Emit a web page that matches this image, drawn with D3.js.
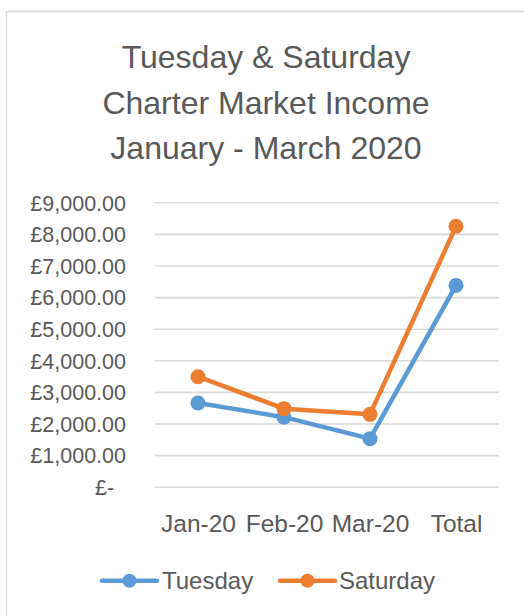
<!DOCTYPE html>
<html>
<head>
<meta charset="utf-8">
<script src="https://cdn.jsdelivr.net/npm/d3@7"></script>
<style>
  html, body { margin: 0; padding: 0; background: #ffffff; }
  svg { display: block; font-family: "Liberation Sans", Arial, sans-serif; }
</style>
</head>
<body>
<svg id="chart" width="524" height="616"></svg>
<script>
// ---- data ----
const titleLines = ["Tuesday & Saturday", "Charter Market Income", "January - March 2020"];
const categories = ["Jan-20", "Feb-20", "Mar-20", "Total"];
const seriesNames = ["Tuesday", "Saturday"];
const tuesdayValues = [2650, 2200, 1520, 6370];
const saturdayValues = [3480, 2470, 2290, 8240];
const yTickValues = [0, 1000, 2000, 3000, 4000, 5000, 6000, 7000, 8000, 9000];
const seriesColors = ["#5B9BD5", "#ED7D31"];

const series = [
  { name: seriesNames[0], values: tuesdayValues, color: seriesColors[0] },
  { name: seriesNames[1], values: saturdayValues, color: seriesColors[1] }
];

const svg = d3.select("#chart");
const textColor = "#595959";

// chart border
svg.append("rect")
  .attr("x", 6.5).attr("y", 11.5)
  .attr("width", 540).attr("height", 640)
  .attr("fill", "#ffffff")
  .attr("stroke", "#D9D9D9").attr("stroke-width", 1.5);

// title
svg.append("g").selectAll("text")
  .data(titleLines).join("text")
  .attr("x", 266)
  .attr("y", (d, i) => 68 + i * 45.7)
  .attr("text-anchor", "middle")
  .attr("fill", textColor)
  .attr("font-size", 32)
  .text(d => d);

// scales
const plotLeft = 155, plotRight = 499, plotTop = 202.3, plotBottom = 486.7;
const x = d3.scalePoint().domain(categories).range([plotLeft, plotRight]).padding(0.5);
const y = d3.scaleLinear().domain([0, 9000]).range([plotBottom, plotTop]);

// gridlines
const grid = svg.append("g").attr("transform", `translate(${plotLeft},0)`)
  .call(d3.axisRight(y).tickValues(yTickValues).tickSize(plotRight - plotLeft).tickFormat(""));
grid.select(".domain").remove();
grid.selectAll("line").attr("stroke", "#D9D9D9").attr("stroke-width", 1.6);

// y axis labels
const fmt = d3.format(",.2f");
const yAxis = svg.append("g").attr("transform", `translate(126,0)`)
  .call(d3.axisLeft(y).tickValues(yTickValues).tickSize(0).tickPadding(0)
    .tickFormat(d => d === 0 ? "£-\u00A0\u00A0" : "£" + fmt(d)));
yAxis.select(".domain").remove();
yAxis.selectAll("text")
  .attr("font-family", "Liberation Sans, Arial, sans-serif")
  .attr("font-size", 21.5)
  .attr("fill", textColor)
  .attr("dy", "0.36em");

// x axis labels
const xAxis = svg.append("g").attr("transform", `translate(0,${plotBottom})`)
  .call(d3.axisBottom(x).tickSize(0).tickPadding(0));
xAxis.select(".domain").remove();
xAxis.selectAll("text")
  .attr("font-family", "Liberation Sans, Arial, sans-serif")
  .attr("font-size", 24.5)
  .attr("fill", textColor)
  .attr("dy", null)
  .attr("y", 531.7 - plotBottom);

// lines + markers
const line = d3.line().x((d, i) => x(categories[i])).y(d => y(d));
const sg = svg.append("g");
series.forEach(s => {
  sg.append("path")
    .datum(s.values)
    .attr("d", line)
    .attr("fill", "none")
    .attr("stroke", s.color)
    .attr("stroke-width", 4.5)
    .attr("stroke-linejoin", "round")
    .attr("stroke-linecap", "round");
  sg.append("g").selectAll("circle")
    .data(s.values).join("circle")
    .attr("cx", (d, i) => x(categories[i]))
    .attr("cy", d => y(d))
    .attr("r", 7.5)
    .attr("fill", s.color);
});

// legend
const legendY = 580.7;
const legendItems = [
  { x0: 102, x1: 157, tx: 162 },
  { x0: 280, x1: 335, tx: 339 }
];
const lg = svg.append("g");
series.forEach((s, i) => {
  const p = legendItems[i];
  lg.append("line")
    .attr("x1", p.x0).attr("x2", p.x1)
    .attr("y1", legendY).attr("y2", legendY)
    .attr("stroke", s.color).attr("stroke-width", 4.5)
    .attr("stroke-linecap", "round");
  lg.append("circle")
    .attr("cx", (p.x0 + p.x1) / 2).attr("cy", legendY)
    .attr("r", 7).attr("fill", s.color);
  lg.append("text")
    .attr("x", p.tx).attr("y", 588.5)
    .attr("font-size", 24)
    .attr("fill", textColor)
    .text(s.name);
});
</script>
</body>
</html>
